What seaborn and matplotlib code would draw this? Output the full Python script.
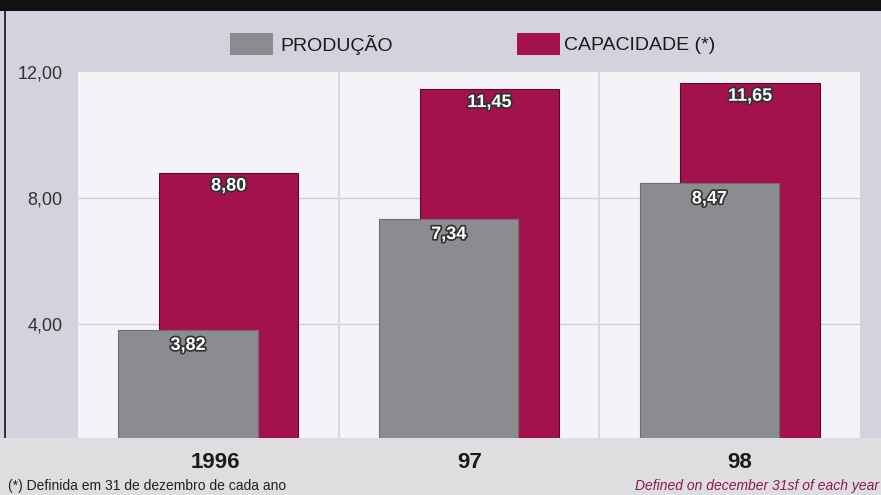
import matplotlib
matplotlib.use("Agg")
import matplotlib.pyplot as plt
import matplotlib.patheffects as pe
from matplotlib.patches import Rectangle
import numpy as np
import pandas as pd
import seaborn as sns

years = ["1996", "97", "98"]
producao = [3.82, 7.34, 8.47]
capacidade = [8.80, 11.45, 11.65]
prod_labels = ["3,82", "7,34", "8,47"]
cap_labels = ["8,80", "11,45", "11,65"]
yticks = [4, 8, 12]
ytick_labels = ["4,00", "8,00", "12,00"]

gray = "#8b8c90"
crimson = "#a3124c"

sns.set_theme(style="white")
plt.rcParams["font.family"] = ["Liberation Sans", "DejaVu Sans"]

fig = plt.figure(figsize=(8.81, 4.95), dpi=100)
fig.patch.set_facecolor("#d4d2dc")

# bottom band, top black band, left border line
fig.add_artist(Rectangle((0, 0), 1, 1 - 438 / 495, transform=fig.transFigure,
                         facecolor="#dedde0", edgecolor="none", zorder=0))
fig.add_artist(Rectangle((0, 1 - 11 / 495), 1, 11 / 495, transform=fig.transFigure,
                         facecolor="#111111", edgecolor="none", zorder=0))
fig.add_artist(Rectangle((0.004, 1 - 438 / 495), 0.0025, 427 / 495, transform=fig.transFigure,
                         facecolor="#333333", edgecolor="none", zorder=0))

ax = fig.add_axes([78 / 881, 1 - 438 / 495, (860 - 78) / 881, (438 - 72) / 495])
ax.set_facecolor("#f4f4f8")

df = pd.DataFrame({"ano": years, "producao": producao, "capacidade": capacidade})
width = 0.535
offset = 0.078

sns.barplot(data=df, x="ano", y="capacidade", color=crimson, saturation=1,
            width=width, edgecolor="#5a0a2a", linewidth=0.8, ax=ax, zorder=2)
n_cap = len(ax.patches)
sns.barplot(data=df, x="ano", y="producao", color=gray, saturation=1,
            width=width, edgecolor="#6e6f72", linewidth=0.8, ax=ax, zorder=3)
for i, p in enumerate(ax.patches):
    p.set_x(p.get_x() + (offset if i < n_cap else -offset))

ax.set_ylim(0.38, 12)
ax.set_xlim(-0.5, 2.5)
ax.set_yticks(yticks)
ax.set_yticklabels(ytick_labels, fontsize=13, color="#333333")
ax.tick_params(axis="y", length=0, pad=11)
ax.set_xticks([])
ax.set_xlabel("")
ax.set_ylabel("")
for s in ax.spines.values():
    s.set_visible(False)

for y in [4, 8]:
    ax.axhline(y, color="#d0d0d6", lw=1, zorder=1)
for x in [0.5, 1.5]:
    ax.axvline(x, color="#d8d8de", lw=1.5, zorder=1)

outline = [pe.withStroke(linewidth=2.5, foreground="#333333")]
for i in range(len(years)):
    ax.text(i + offset, capacidade[i] - 0.42, cap_labels[i], ha="center", va="center",
            fontsize=13, fontweight="bold", color="white", path_effects=outline, zorder=5)
    ax.text(i - offset, producao[i] - 0.5, prod_labels[i], ha="center", va="center",
            fontsize=13, fontweight="bold", color="white", path_effects=outline, zorder=5)

# year labels below the plot
year_x = [215, 470, 740]
for xp, lab in zip(year_x, years):
    fig.text(xp / 881, 1 - 462 / 495, lab, ha="center", va="center",
             fontsize=16, fontweight="bold", color="#1a1a1a")

# legend
fig.add_artist(Rectangle((230 / 881, 1 - 55 / 495), 43 / 881, 22 / 495,
                         transform=fig.transFigure, facecolor=gray, edgecolor="none"))
fig.text(280 / 881, 1 - 45 / 495, "PRODUÇÃO", ha="left", va="center",
         fontsize=14, color="#1a1a1a")
fig.add_artist(Rectangle((517 / 881, 1 - 55 / 495), 43 / 881, 22 / 495,
                         transform=fig.transFigure, facecolor=crimson, edgecolor="none"))
fig.text(564 / 881, 1 - 45 / 495, "CAPACIDADE (*)", ha="left", va="center",
         fontsize=14, color="#1a1a1a")

# footnotes
fig.text(8 / 881, 1 - 486 / 495, "(*) Definida em 31 de dezembro de cada ano",
         ha="left", va="center", fontsize=10, color="#222222")
fig.text(879 / 881, 1 - 486 / 495, "Defined on december 31sf of each year",
         ha="right", va="center", fontsize=10, style="italic", color="#8a1a4e")

fig.savefig("out.png", dpi=100, facecolor=fig.get_facecolor())
